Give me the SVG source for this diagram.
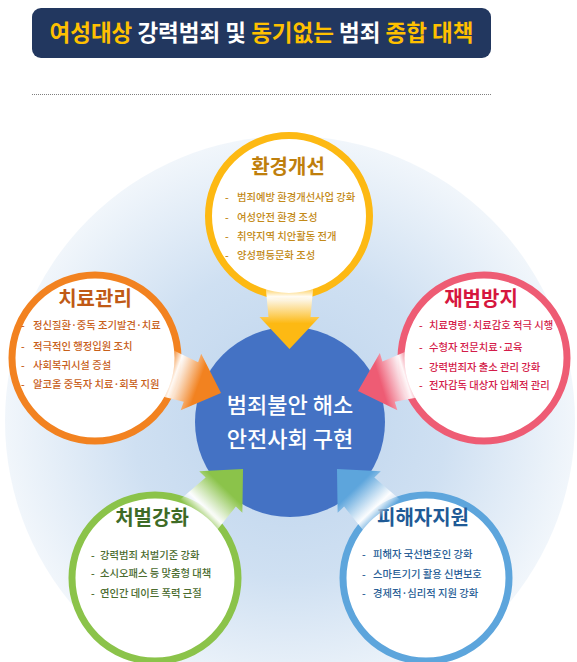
<svg xmlns="http://www.w3.org/2000/svg" width="577" height="662" viewBox="0 0 577 662">
<style>
text{font-family:"Noto Sans CJK KR","Noto Sans",sans-serif}
.ttl{font-size:22.5px;font-weight:bold;text-anchor:middle}
.nt{font-size:20px;font-weight:bold;text-anchor:middle}
.it{font-size:10.3px;font-weight:500}
.ring{fill:#fff;stroke-width:7}
.ctr{font-size:22px;fill:#fff;text-anchor:middle;font-weight:500}
</style>
<defs>
<radialGradient id="bg" cx="290" cy="421" r="285" gradientUnits="userSpaceOnUse">
<stop offset="0" stop-color="#BCD3EC"/>
<stop offset="0.55" stop-color="#CFE0F2"/>
<stop offset="1" stop-color="#F1F6FB"/>
</radialGradient>
<linearGradient id="gy" x1="0" y1="0" x2="1" y2="0"><stop offset="0" stop-color="#fff" stop-opacity="0"/><stop offset="0.18" stop-color="#fff" stop-opacity="0.95"/><stop offset="0.6" stop-color="#FDB913"/><stop offset="1" stop-color="#FDB913"/></linearGradient>
<linearGradient id="go" x1="0" y1="0" x2="1" y2="0"><stop offset="0" stop-color="#fff" stop-opacity="0"/><stop offset="0.18" stop-color="#fff" stop-opacity="0.95"/><stop offset="0.6" stop-color="#F28220"/><stop offset="1" stop-color="#F28220"/></linearGradient>
<linearGradient id="gp" x1="0" y1="0" x2="1" y2="0"><stop offset="0" stop-color="#fff" stop-opacity="0"/><stop offset="0.18" stop-color="#fff" stop-opacity="0.95"/><stop offset="0.6" stop-color="#EE5C74"/><stop offset="1" stop-color="#EE5C74"/></linearGradient>
<linearGradient id="gg" x1="0" y1="0" x2="1" y2="0"><stop offset="0" stop-color="#fff" stop-opacity="0"/><stop offset="0.18" stop-color="#fff" stop-opacity="0.95"/><stop offset="0.6" stop-color="#8BC34A"/><stop offset="1" stop-color="#8BC34A"/></linearGradient>
<linearGradient id="gb" x1="0" y1="0" x2="1" y2="0"><stop offset="0" stop-color="#fff" stop-opacity="0"/><stop offset="0.18" stop-color="#fff" stop-opacity="0.95"/><stop offset="0.6" stop-color="#5DA5DC"/><stop offset="1" stop-color="#5DA5DC"/></linearGradient>
</defs>

<g id="header">
<rect x="32" y="8" width="459" height="50" rx="9" fill="#22375F"/>
<text class="ttl" x="261.5" y="41"><tspan fill="#FFC000">여성대상</tspan><tspan fill="#fff"> 강력범죄 및 </tspan><tspan fill="#FFC000">동기없는</tspan><tspan fill="#fff"> 범죄 </tspan><tspan fill="#FFC000">종합 대책</tspan></text>
<line x1="32" y1="94.5" x2="491" y2="94.5" stroke="#7F7F7F" stroke-width="1" stroke-dasharray="1,1"/>
</g>

<circle id="background" cx="290" cy="421" r="285" fill="url(#bg)"/>

<g id="center">
<circle cx="290" cy="422" r="95" fill="#4472C4"/>
<text class="ctr" x="290" y="413">범죄불안 해소</text>
<text class="ctr" x="290" y="447">안전사회 구현</text>
</g>

<g id="node-env">
<circle class="ring" cx="289" cy="216" r="80.5" stroke="#FDB913"/>
<text class="nt" x="288" y="174" fill="#BF7F0C">환경개선</text>
<g class="it" fill="#C38A18">
<text x="225" y="201">-</text><text x="237" y="201">범죄예방 환경개선사업 강화</text>
<text x="225" y="221">-</text><text x="237" y="221">여성안전 환경 조성</text>
<text x="225" y="240">-</text><text x="237" y="240">취약지역 치안활동 전개</text>
<text x="225" y="259">-</text><text x="237" y="259">양성평등문화 조성</text>
</g>
</g>

<g id="node-treat">
<circle class="ring" cx="95" cy="358" r="83" stroke="#F28220"/>
<text class="nt" x="95" y="306" fill="#C05A16">치료관리</text>
<g class="it" fill="#C8601A">
<text x="21" y="329">-</text><text x="33" y="329">정신질환·중독 조기발견·치료</text>
<text x="21" y="350">-</text><text x="33" y="350">적극적인 행정입원 조치</text>
<text x="21" y="369">-</text><text x="33" y="369">사회복귀시설 증설</text>
<text x="21" y="388">-</text><text x="33" y="388">알코올 중독자 치료·회복 지원</text>
</g>
</g>

<g id="node-recid">
<circle class="ring" cx="484" cy="358" r="83" stroke="#EE5C74"/>
<text class="nt" x="481" y="306" fill="#D6163E">재범방지</text>
<g class="it" fill="#D41C4A">
<text x="419" y="329">-</text><text x="429" y="329">치료명령·치료감호 적극 시행</text>
<text x="419" y="351">-</text><text x="429" y="351">수형자 전문치료·교육</text>
<text x="419" y="371">-</text><text x="429" y="371">강력범죄자 출소 관리 강화</text>
<text x="419" y="389">-</text><text x="429" y="389">전자감독 대상자 입체적 관리</text>
</g>
</g>

<g id="node-punish">
<circle class="ring" cx="155" cy="578" r="83" stroke="#8BC34A"/>
<text class="nt" x="152" y="525" fill="#3E6B26">처벌강화</text>
<g class="it" fill="#4A6B2E">
<text x="91" y="559">-</text><text x="100" y="559">강력범죄 처벌기준 강화</text>
<text x="91" y="577">-</text><text x="100" y="577">소시오패스 등 맞춤형 대책</text>
<text x="91" y="597">-</text><text x="100" y="597">연인간 데이트 폭력 근절</text>
</g>
</g>

<g id="node-victim">
<circle class="ring" cx="426" cy="578" r="83" stroke="#5DA5DC"/>
<text class="nt" x="423" y="525" fill="#1F5A96">피해자지원</text>
<g class="it" fill="#2A5F97">
<text x="362" y="558">-</text><text x="373" y="558">피해자 국선변호인 강화</text>
<text x="362" y="578">-</text><text x="373" y="578">스마트기기 활용 신변보호</text>
<text x="362" y="597">-</text><text x="373" y="597">경제적·심리적 지원 강화</text>
</g>
</g>

<g id="connectors">
<path d="M-64,-24 L-32,-21 L-32,-30 L0,0 L-32,30 L-32,21 L-64,24 Z" fill="url(#gy)" transform="translate(289.5,349) rotate(90)"/>
<path d="M-60,-24 L-32,-21 L-32,-30 L0,0 L-32,30 L-32,21 L-60,24 Z" fill="url(#go)" transform="translate(221,393) rotate(20)"/>
<path d="M-60,-24 L-32,-21 L-32,-30 L0,0 L-32,30 L-32,21 L-60,24 Z" fill="url(#gp)" transform="translate(358,391) rotate(163)"/>
<path d="M-66,-24 L-32,-21 L-32,-30 L0,0 L-32,30 L-32,21 L-66,24 Z" fill="url(#gg)" transform="translate(243,469) rotate(-46)"/>
<path d="M-66,-24 L-32,-21 L-32,-30 L0,0 L-32,30 L-32,21 L-66,24 Z" fill="url(#gb)" transform="translate(337,469) rotate(-134)"/>
</g>
</svg>
